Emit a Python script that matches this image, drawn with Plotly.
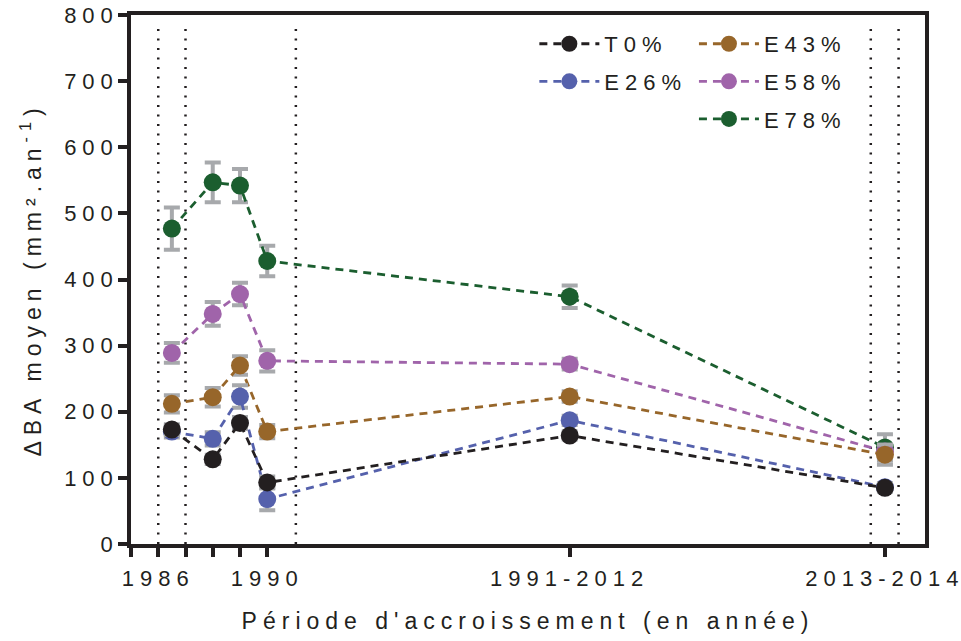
import plotly.graph_objects as go

# ---- data ----
period_x = [1986.5, 1988, 1989, 1990, 2001.1, 2012.67]

T0 = [173, 128, 183, 93, 164, 85]
T0_err = [8, 7, 9, 9, 6, 6]
E26 = [170, 159, 223, 68, 187, 86]
E26_err = [9, 10, 17, 17, 7, 6]
E43 = [212, 222, 270, 170, 223, 135]
E43_err = [13, 14, 14, 10, 8, 15]
E58 = [289, 348, 378, 277, 272, 140]
E58_err = [15, 18, 17, 16, 8, 10]
E78 = [477, 547, 542, 428, 374, 146]
E78_err = [32, 30, 25, 23, 17, 20]

tick_vals = [1985, 1986, 1987, 1988, 1989, 1990, 2001.1, 2012.67]
tick_text = ["", "1986", "", "", "", "1990", "1991-2012", "2013-2014"]
period_bounds = [1986, 1987, 1991.05, 2012.15, 2013.17]

y_ticks = [0, 100, 200, 300, 400, 500, 600, 700, 800]

# ---- style ----
INK = "#231f20"
FONT = "Liberation Sans, Arial, sans-serif"
ERR = "#a7a9ac"
series = [
    ("E78%", E78, E78_err, "#1b5e2f", "legend2", 3),
    ("E58%", E58, E58_err, "#a064aa", "legend2", 2),
    ("E43%", E43, E43_err, "#97662a", "legend2", 1),
    ("E26%", E26, E26_err, "#5561ac", "legend", 2),
    ("T0%", T0, T0_err, INK, "legend", 1),
]

fig = go.Figure()
for name, vals, err, col, leg, rank in series:
    fig.add_trace(go.Scatter(
        x=period_x, y=vals, name=name, mode="lines+markers",
        line=dict(color=col, width=2.8, dash="8px,6px"),
        marker=dict(color=col, size=18, line=dict(width=0)),
        error_y=dict(type="data", array=err, color=ERR, thickness=4, width=8),
        legend=leg, legendrank=rank, legendgroup=name,
    ))

for b in period_bounds:
    fig.add_shape(type="line", xref="x", yref="paper", x0=b, x1=b, y0=0, y1=0.985,
                  line=dict(color=INK, width=2.5, dash="2px,7.5px"), layer="below")

fig.update_layout(
    width=961, height=641,
    margin=dict(l=131, r=36, t=15, b=97, autoexpand=False),
    paper_bgcolor="white", plot_bgcolor="white",
    font=dict(family=FONT, color=INK, size=22),
    xaxis=dict(
        range=[1985, 2014.14], tickmode="array", tickvals=tick_vals,
        ticktext=tick_text, automargin=False,
        showgrid=False, zeroline=False,
        showline=True, linecolor=INK, linewidth=3.5, mirror=True,
        ticks="outside", ticklen=9, tickwidth=3.5, tickcolor=INK,
        tickfont=dict(size=22), ticklabelstandoff=3,
        title=dict(text="Période d'accroissement (en année)",
                   font=dict(size=23), standoff=24),
    ),
    yaxis=dict(
        range=[0, 800], tickmode="array", tickvals=y_ticks,
        automargin=False,
        showgrid=False, zeroline=False,
        showline=True, linecolor=INK, linewidth=3.5, mirror=True,
        ticks="outside", ticklen=9, tickwidth=3.5, tickcolor=INK,
        tickfont=dict(size=22),
        title=dict(text="ΔBA moyen (mm².an<sup>-1</sup>)", font=dict(size=23),
                   standoff=30),
    ),
    legend=dict(x=0.508, y=0.985, xanchor="left", yanchor="top",
                bgcolor="rgba(0,0,0,0)", font=dict(size=22),
                tracegroupgap=6, itemwidth=60),
    legend2=dict(x=0.709, y=0.985, xanchor="left", yanchor="top",
                 bgcolor="rgba(0,0,0,0)", font=dict(size=22),
                 tracegroupgap=6, itemwidth=60),
    showlegend=True,
)

post = ("document.body.style.margin='0';"
        "document.querySelectorAll('.main-svg text').forEach(function(t){"
        "t.style.letterSpacing='6px';});"
        "document.querySelectorAll('.yaxislayer-above text').forEach(function(t){"
        "var x=parseFloat(t.getAttribute('x'))||0;t.setAttribute('x',x+5);});"
        "document.querySelectorAll('.infolayer [clip-path], .infolayer[clip-path]').forEach(function(e){"
        "e.removeAttribute('clip-path');});")
fig.write_html("out.html", post_script=post, config={"displayModeBar": False})
